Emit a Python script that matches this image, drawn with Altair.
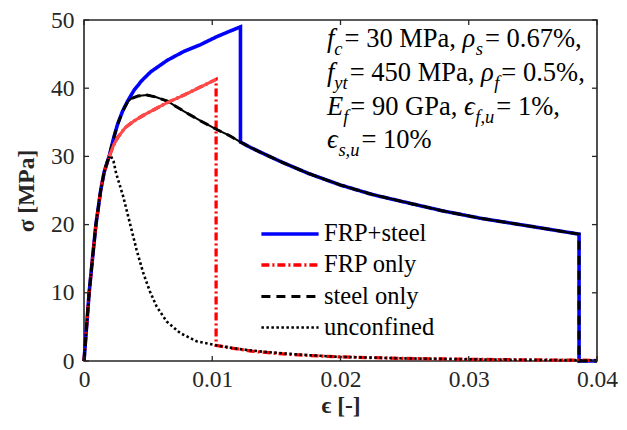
import altair as alt
import pandas as pd

SERIES = ["FRP+steel", "FRP only", "steel only", "unconfined"]
COLORS = ["#0000ff", "#ff0000", "#000000", "#000000"]
DASHES = [[1, 0], [8, 3, 2, 3], [9, 6], [2.5, 2.5]]
WIDTHS = [3.6, 2.6, 2.0, 2.8]

X_TICKS = [0, 0.01, 0.02, 0.03, 0.04]
Y_TICKS = [0, 10, 20, 30, 40, 50]

frp_steel_eps = [0, 0.0002, 0.0004, 0.00066, 0.00093, 0.0013, 0.00157, 0.00196, 0.0023, 0.0026,
                 0.003, 0.0034, 0.0039, 0.0045, 0.0052, 0.0065, 0.0078, 0.0091, 0.0104, 0.0113,
                 0.0122, 0.0122, 0.013, 0.014, 0.0155, 0.0175, 0.020, 0.0225, 0.025, 0.028,
                 0.031, 0.035, 0.0386, 0.0386, 0.040]
frp_steel_sig = [0, 5, 10, 15, 20, 25, 27.7, 30.0, 32.6, 34.6,
                 36.6, 38.1, 39.7, 41.1, 42.4, 44.1, 45.4, 46.4, 47.6, 48.3,
                 49.0, 32.1, 31.3, 30.4, 29.1, 27.5, 25.8, 24.4, 23.3, 22.0,
                 20.9, 19.7, 18.6, 0, 0]

frp_eps = [0, 0.0002, 0.0004, 0.00066, 0.00093, 0.0013, 0.00157, 0.00196, 0.0023, 0.0026,
           0.0032, 0.0039, 0.0046, 0.0052, 0.0065, 0.0078, 0.0091, 0.0103, 0.0103, 0.0115,
           0.013, 0.015, 0.0175, 0.020, 0.025, 0.030, 0.035, 0.040]
frp_sig = [0, 5, 10, 15, 20, 25, 27.7, 30.0, 31.6, 32.7,
           34.2, 35.2, 36.0, 36.6, 37.9, 39.0, 40.2, 41.3, 2.3, 1.9,
           1.45, 1.1, 0.8, 0.6, 0.38, 0.25, 0.16, 0.1]

steel_eps = [0, 0.0002, 0.0004, 0.00066, 0.00093, 0.0013, 0.00157, 0.00196, 0.0023, 0.0026,
             0.003, 0.0034, 0.0037, 0.0042, 0.0049, 0.0056, 0.0065, 0.0078, 0.0091, 0.0104,
             0.0114, 0.0122, 0.013, 0.014, 0.0155, 0.0175, 0.020, 0.0225, 0.025, 0.028,
             0.031, 0.035, 0.0386, 0.0386, 0.040]
steel_sig = [0, 5, 10, 15, 20, 25, 27.7, 30.0, 32.6, 34.6,
             36.6, 38.0, 38.5, 38.85, 39.0, 38.7, 38.1, 36.6, 35.2, 33.9,
             33.0, 32.1, 31.3, 30.4, 29.1, 27.5, 25.8, 24.4, 23.3, 22.0,
             20.9, 19.7, 18.6, 0, 0]

unconf_eps = [0, 0.0002, 0.0004, 0.00066, 0.00093, 0.0013, 0.00157, 0.0018, 0.00206, 0.0023,
              0.00251, 0.00306, 0.00358, 0.0041, 0.00462, 0.00514, 0.00566, 0.00644, 0.0075, 0.00877,
              0.0103, 0.0121, 0.014, 0.016, 0.018, 0.020, 0.025, 0.030, 0.035, 0.040]
unconf_sig = [0, 5, 10, 15, 20, 25, 27.7, 29.3, 30.2, 29.3,
              27.5, 24.1, 20.2, 16.3, 12.9, 10.2, 8.0, 5.8, 4.1, 2.9,
              2.3, 1.75, 1.35, 1.05, 0.8, 0.6, 0.38, 0.25, 0.16, 0.1]

# annotation text runs: (text, italic, subscript)
ANNOT_LINES = [
    [("f", 1, 0), ("c", 1, 1), ("= 30 MPa,", 0, 0), (" ", 0, 0), ("ρ", 1, 0), ("s", 1, 1), ("= 0.67%,", 0, 0)],
    [("f", 1, 0), ("yt", 1, 1), ("= 450 MPa,", 0, 0), (" ", 0, 0), ("ρ", 1, 0), ("f", 1, 1), ("= 0.5%,", 0, 0)],
    [("E", 1, 0), ("f", 1, 1), ("= 90 GPa,", 0, 0), (" ", 0, 0), ("ϵ", 1, 0), ("f,u", 1, 1), ("= 1%,", 0, 0)],
    [("ϵ", 1, 0), ("s,u", 1, 1), ("= 10%", 0, 0)],
]

FONT = "Liberation Serif"
AX = "#262626"
W, H = 513, 341

rows = []
for name, es, ss in [(SERIES[0], frp_steel_eps, frp_steel_sig),
                     (SERIES[1], frp_eps, frp_sig),
                     (SERIES[2], steel_eps, steel_sig),
                     (SERIES[3], unconf_eps, unconf_sig)]:
    for i, (e, s) in enumerate(zip(es, ss)):
        rows.append({"series": name, "eps": e, "sig": s, "i": i})
df = pd.DataFrame(rows)

xs = alt.Scale(domain=[0, 0.04], nice=False, zero=False)
ys = alt.Scale(domain=[0, 50], nice=False)
x_axis = alt.Axis(values=X_TICKS, format="~g", labelPadding=6, titlePadding=3,
                  labelFlush=False, ticks=False, domain=False, grid=False)
y_axis = alt.Axis(values=Y_TICKS, format="d", labelPadding=10, titlePadding=12,
                  labelFlush=False, ticks=False, domain=False, grid=False)
X_TITLE = "ϵ [-]"
Y_TITLE = "σ [MPa]"


def xenc(field):
    return alt.X(field, type="quantitative", scale=xs, axis=x_axis, title=X_TITLE)


def yenc(field):
    return alt.Y(field, type="quantitative", scale=ys, axis=y_axis, title=Y_TITLE)


leg = alt.Legend(orient="none", legendX=193, legendY=201, title=None,
                 symbolType="M-2.6,0H2.6", symbolSize=484, labelFont=FONT,
                 labelFontSize=24.5, labelColor="#000000", rowPadding=6,
                 labelOffset=21, padding=0)

lines = alt.Chart(df).mark_line(strokeCap="butt").encode(
    x=xenc("eps"), y=yenc("sig"),
    color=alt.Color("series:N", scale=alt.Scale(domain=SERIES, range=COLORS), legend=leg),
    strokeDash=alt.StrokeDash("series:N", scale=alt.Scale(domain=SERIES, range=DASHES), legend=leg),
    strokeWidth=alt.StrokeWidth("series:N", scale=alt.Scale(domain=SERIES, range=WIDTHS), legend=leg),
    order=alt.Order("i:Q"),
)

steel_solid = pd.DataFrame({"eps": steel_eps[11:33], "sig": steel_sig[11:33]})
frp_solid = pd.DataFrame({"eps": frp_eps[7:18], "sig": frp_sig[7:18]})

ov_steel = alt.Chart(steel_solid).mark_line(color="#000000", strokeWidth=2.0).encode(
    x=xenc("eps"), y=yenc("sig"))
ov_frp = alt.Chart(frp_solid).mark_line(color="#ff4a4a", strokeWidth=3.0).encode(
    x=xenc("eps"), y=yenc("sig"))

xt_df = pd.DataFrame({"t": X_TICKS})
yt_df = pd.DataFrame({"t": Y_TICKS})
tick_bot = alt.Chart(xt_df).mark_rule(color=AX, strokeWidth=1.3).encode(
    x=xenc("t"), y=alt.value(H), y2=alt.value(H - 5))
tick_top = alt.Chart(xt_df).mark_rule(color=AX, strokeWidth=1.3).encode(
    x=xenc("t"), y=alt.value(0), y2=alt.value(5))
tick_left = alt.Chart(yt_df).mark_rule(color=AX, strokeWidth=1.3).encode(
    y=yenc("t"), x=alt.value(0), x2=alt.value(5))
tick_right = alt.Chart(yt_df).mark_rule(color=AX, strokeWidth=1.3).encode(
    y=yenc("t"), x=alt.value(W), x2=alt.value(W - 5))

# approximate Times advance widths (per 1000 em) for laying out the annotation runs
RM_W = {" ": 250, "=": 564, ".": 250, ",": 250, "%": 833, "M": 889, "P": 556, "a": 444, "G": 722}
IT_W = {"f": 278, "c": 444, "s": 389, "y": 444, "t": 278, "u": 500, ",": 250, "E": 611, "ρ": 500, "ϵ": 430}
MAIN, SUB = 26.5, 18.5
X0 = 243
BASELINES = [27, 61, 95, 128]
SUB_DY = 8

one = pd.DataFrame({"a": [0]})
texts = []
for line, base in zip(ANNOT_LINES, BASELINES):
    x = X0
    for t, it, sub in line:
        size = SUB if sub else MAIN
        table = IT_W if it else RM_W
        w = sum(table.get(ch, 500) for ch in t) / 1000 * size
        if t.strip():
            texts.append(alt.Chart(one).mark_text(
                text=t, align="left", baseline="alphabetic", font=FONT, fontSize=size,
                fontStyle="italic" if it else "normal", color="#000000").encode(
                x=alt.value(x), y=alt.value(base + (SUB_DY if sub else 0))))
        x += w + (2 if sub else 0)

chart = alt.layer(lines, ov_steel, ov_frp, tick_bot, tick_top, tick_left, tick_right, *texts).properties(
    width=W, height=H,
    padding={"left": 76, "top": 12, "right": 22, "bottom": 61},
    autosize=alt.AutoSizeParams(type="none"),
).configure_view(stroke=AX, strokeWidth=1.6).configure_axis(
    labelFont=FONT, titleFont=FONT, labelFontSize=23.5, titleFontSize=23.5,
    labelColor=AX, titleColor=AX, titleFontWeight="bold",
)

chart.save("out.html", embed_options={"renderer": "svg", "actions": False})
